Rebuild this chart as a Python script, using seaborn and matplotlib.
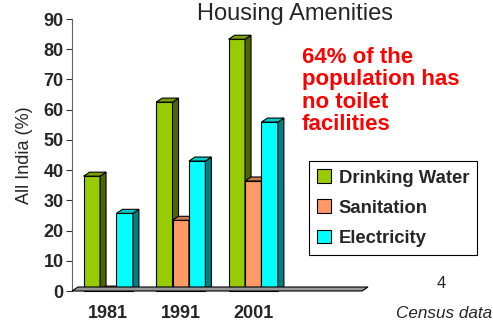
import numpy as np
import pandas as pd
import matplotlib
matplotlib.use('Agg')
import matplotlib.pyplot as plt
import seaborn as sns
from matplotlib.patches import Polygon, Patch
from matplotlib.colors import to_hex

years = ['1981', '1991', '2001']
series = ['Drinking Water', 'Sanitation', 'Electricity']
drinking_water = [38, 62.5, 83.3]
sanitation = [0.3, 23.4, 36.4]
electricity = [25.7, 43, 55.9]
yticks = list(range(0, 91, 10))

sns.set_theme(style='white')
plt.rcParams['font.family'] = ['Liberation Sans', 'DejaVu Sans']

df = pd.DataFrame({
    'Year': years * 3,
    'Amenity': [s for s in series for _ in years],
    'Value': drinking_water + sanitation + electricity,
})

front = {'Drinking Water': '#99CC00', 'Sanitation': '#FF9966', 'Electricity': '#00FFFF'}
side = {'Drinking Water': '#4D6600', 'Sanitation': '#B36A47', 'Electricity': '#008080'}
top = {'Drinking Water': '#7AA300', 'Sanitation': '#CC7A52', 'Electricity': '#00CCCC'}

W, H = 493, 322
fig = plt.figure(figsize=(W / 100, H / 100), dpi=100)
ax = fig.add_axes([72 / W, 31 / H, 290 / W, 272 / H])
sns.barplot(data=df, x='Year', y='Value', hue='Amenity', order=years,
            hue_order=series, palette=front, width=0.68, saturation=1,
            edgecolor='black', linewidth=0.8, legend=False, ax=ax)
ax.set_xlim(-0.5, 3.5)
ax.set_ylim(0, 90)
ax.set_yticks(yticks)
ax.set_yticklabels([str(t) for t in yticks], fontsize=13, fontweight='bold')
ax.set_xticks(range(len(years)))
ax.set_xticklabels(years, fontsize=13, fontweight='bold')
ax.set_xticks(np.arange(-0.5, 3.6, 1.0), minor=True)
ax.tick_params(axis='x', which='major', length=0, pad=10)
ax.tick_params(axis='x', which='minor', length=6, width=0.8, color='#333333', direction='out')
ax.tick_params(axis='y', length=4, width=0.8, color='#333333', left=True, pad=2, direction='out')
ax.set_xlabel('')
ax.set_ylabel('All India (%)', fontsize=13)
ax.yaxis.set_label_coords(-0.134, 0.5)
for s in ['top', 'right', 'bottom']:
    ax.spines[s].set_visible(False)
ax.spines['left'].set_color('#666666')
ax.spines['left'].set_linewidth(0.8)

dx, dy = 6, 4
tr = ax.transData
# floor
p0 = tr.transform((-0.5, 0))
p1 = tr.transform((3.5, 0))
floor = Polygon([p0, p1, p1 + [dx, dy], p0 + [dx, dy]], closed=True,
                facecolor='#999999', edgecolor='black', linewidth=0.8,
                transform=None, zorder=1.5, clip_on=False)
fig.patches.append(floor)

bars = sorted(ax.patches, key=lambda p: p.get_x())
name_of = {to_hex(v): k for k, v in front.items()}
for k, p in enumerate(bars):
    z = 3 + k * 0.1
    p.set_zorder(z)
    nm = name_of.get(to_hex(p.get_facecolor()), 'Drinking Water')
    x, w, h = p.get_x(), p.get_width(), p.get_height()
    br = tr.transform((x + w, 0))
    tl = tr.transform((x, h)); trr = tr.transform((x + w, h))
    d = np.array([dx, dy])
    sideP = Polygon([br, br + d, trr + d, trr], closed=True, facecolor=side[nm],
                    edgecolor='black', linewidth=0.8, transform=None, zorder=z, clip_on=False)
    topP = Polygon([tl, trr, trr + d, tl + d], closed=True, facecolor=top[nm],
                   edgecolor='black', linewidth=0.8, transform=None, zorder=z, clip_on=False)
    ax.add_artist(sideP)
    ax.add_artist(topP)
    p.set_clip_on(False)

fig.text(295 / W, 1 - 14 / H, 'Housing Amenities', fontsize=17, ha='center', va='center')
fig.text(302 / W, 1 - 47 / H, '64% of the\npopulation has\nno toilet\nfacilities',
         fontsize=16, fontweight='bold', color='red', ha='left', va='top', linespacing=1.08)

handles = [Patch(facecolor=front[s], edgecolor='black', linewidth=0.8, label=s) for s in series]
leg = fig.legend(handles=handles, loc='upper left', bbox_to_anchor=(309 / W, 1 - 161 / H),
                 frameon=True, fancybox=False, edgecolor='black', framealpha=1,
                 prop={'size': 13.3, 'weight': 'bold'}, handlelength=0.75, handleheight=0.75,
                 handletextpad=0.4, labelspacing=0.7, borderpad=0.45, borderaxespad=0)
leg.get_frame().set_linewidth(0.8)

fig.text(441 / W, 1 - 283 / H, '4', fontsize=12, ha='center', va='center')
fig.text(396 / W, 1 - 313 / H, 'Census data', fontsize=12.3, style='italic', ha='left', va='center')

fig.savefig('out.png', dpi=100)
